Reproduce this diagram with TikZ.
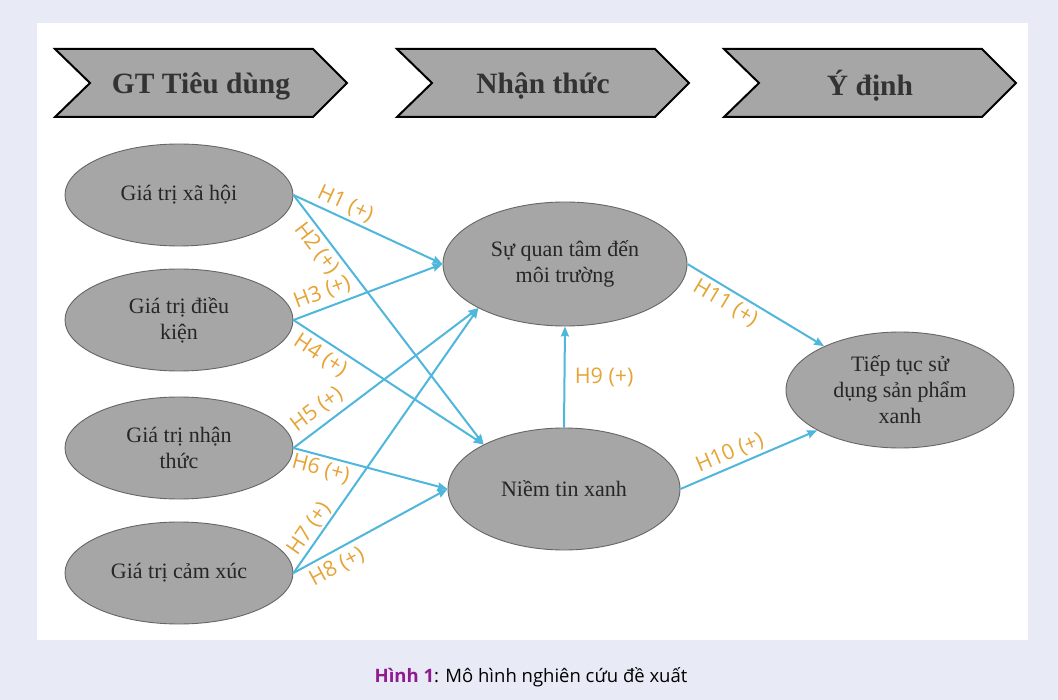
\documentclass[tikz,border=0pt]{standalone}
\usepackage{fontspec}
\setmainfont{Liberation Serif}
\newfontfamily\hypofont{Open Sans}
\usetikzlibrary{shapes.geometric,arrows.meta,positioning}

\definecolor{pagebg}{HTML}{E8EBF6}
\definecolor{ovalgray}{HTML}{A6A6A6}
\definecolor{linkblue}{HTML}{4FB6DC}
\definecolor{hypoorange}{HTML}{E6A435}
\definecolor{capviolet}{HTML}{8E1B8F}

\tikzset{construct/.style={ellipse,draw=black!60,fill=ovalgray,line width=0.9pt,inner sep=0pt,
    minimum width=228pt,minimum height=102pt,align=center,
    font=\fontsize{22}{26}\selectfont,text=black!85}}
\tikzset{link/.style={draw=linkblue,line width=2pt,-{Stealth[length=10pt,width=8pt,inset=1pt]}}}
\tikzset{hypo/.style={font=\hypofont\fontsize{21.5}{25}\selectfont,text=hypoorange,sloped,inner sep=1pt}}
\tikzset{banner/.style={draw=black,fill=ovalgray,line width=2pt,line join=miter}}

\begin{document}
\begin{tikzpicture}[x=1pt,y=-1pt]
                  \fill[pagebg] (0,0) rectangle (1058,700);
                  \fill[white] (37,23) rectangle (1028,640);
                  % stage banners
                  \foreach \bx/\btxt/\bname in {55/GT Tiêu dùng/tieudung, 397/Nhận thức/nhanthuchead, 724/Ý định/ydinh}{
                      \draw[banner] (\bx,49) -- ++(258,0) -- ++(34,34) -- ++(-34,34) -- ++(-258,0) -- ++(35,-34) -- cycle;
                      \node[font=\bfseries\fontsize{29.5}{33}\selectfont,text=black!80] (\bname) at (\bx+146,86) {\btxt};
                  }
                  % constructs
                  \node[construct] (xahoi) at (179,195) {Giá trị xã hội};
                  \node[construct] (dieukien) at (179,320) {Giá trị điều\\kiện};
                  \node[construct] (nhanthuc) at (179,448) {Giá trị nhận\\thức};
                  \node[construct] (camxuc) at (179,573) {Giá trị cảm xúc};
                  \node[construct,minimum width=244pt,minimum height=124pt] (quantam) at (565,264) {Sự quan tâm đến\\môi trường};
                  \node[construct,minimum width=232pt,minimum height=122pt] (niemtin) at (564,489) {Niềm tin xanh};
                  \node[construct,minimum height=116pt] (tieptuc) at (900,390) {Tiếp tục sử\\dụng sản phẩm\\xanh};
                  % hypotheses
                  \draw[link] (xahoi.east) -- node[hypo,above=2pt,pos=0.31]{H1 (+)} (quantam.west);
                  \draw[link] (xahoi.east) -- node[hypo,below=3pt,pos=0.18]{H2 (+)} (niemtin.151);
                  \draw[link] (dieukien.east) -- node[hypo,above=4pt,pos=0.23]{H3 (+)} (quantam.west);
                  \draw[link] (dieukien.east) -- node[hypo,below=4pt,pos=0.185]{H4 (+)} (niemtin.151);
                  \draw[link] (nhanthuc.east) -- node[hypo,above=5pt,pos=0.18]{H5 (+)} (quantam.207);
                  \draw[link] (nhanthuc.east) -- node[hypo,below=2pt,pos=0.2]{H6 (+)} (niemtin.west);
                  \draw[link] (camxuc.east) -- node[hypo,above=1pt,pos=0.14]{H7 (+)} (quantam.207);
                  \draw[link] (camxuc.east) -- node[hypo,below=4pt,pos=0.235]{H8 (+)} (niemtin.west);
                  \draw[link] (niemtin.north) -- node[font=\hypofont\fontsize{21.5}{25}\selectfont,text=hypoorange,right=6pt]{H9 (+)} (quantam.south);
                  \draw[link] (niemtin.east) -- node[hypo,above=2pt,pos=0.4]{H10 (+)} (tieptuc.206);
                  \draw[link] (quantam.east) -- node[hypo,below=3pt,pos=0.33]{H11 (+)} (tieptuc.150);
                  % caption
                  \node[font=\hypofont\fontsize{18.5}{22}\selectfont] (caption) at (531,677) {\textcolor{capviolet}{\bfseries Hình 1}: Mô hình nghiên cứu đề xuất};
              \end{tikzpicture}
\end{document}
